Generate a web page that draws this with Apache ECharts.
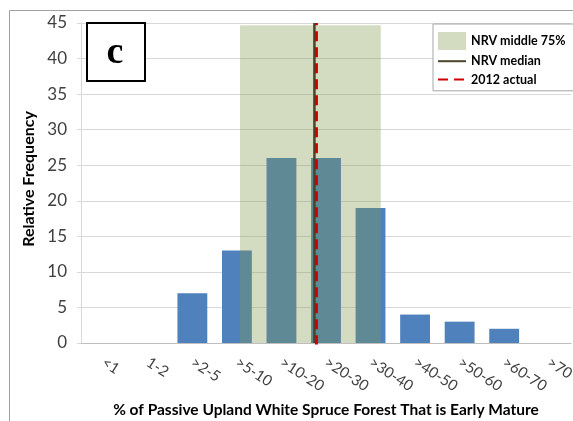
<!DOCTYPE html>
<html>
<head>
<meta charset="utf-8">
<script src="https://cdn.jsdelivr.net/npm/echarts@6/dist/echarts.min.js"></script>
<style>
  html, body { margin: 0; padding: 0; background: #fff; }
  #chart { width: 573px; height: 421px; }
</style>
</head>
<body>
<div id="chart"></div>
<script>
// categories and bar heights
var classes = ['<1', '1-2', '>2-5', '>5-10', '>10-20', '>20-30', '>30-40', '>40-50', '>50-60', '>60-70', '>70'];
var freq = [0, 0, 7, 13, 26, 26, 19, 4, 3, 2, 0];

// NRV range and markers, in category units (0 = left edge of "<1")
var nrvBand = [3.57, 6.73];
var nrvTop = 44.7;
var nrvMedian = 5.24;
var actual2012 = 5.285;

var font = 'Lato, "Open Sans", sans-serif';

var chart = echarts.init(document.getElementById('chart'));

chart.setOption({
    animation: false,
    grid: {
        left: 81,
        right: 2,
        top: 23,
        bottom: 78,
        outerBoundsMode: 'none'
    },
    legend: {
        orient: 'vertical',
        left: 433,
        top: 24,
        padding: [8, 8, 4, 4],
        itemWidth: 28,
        itemHeight: 18,
        itemGap: 4,
        backgroundColor: '#fff',
        borderColor: '#a6a6a6',
        borderWidth: 1,
        textStyle: {
            fontFamily: font,
            fontWeight: 'bold',
            fontSize: 12.5,
            color: '#000'
        },
        data: [
            { name: 'NRV middle 75%', icon: 'rect' },
            { name: 'NRV median', itemStyle: { opacity: 0 } },
            { name: '2012 actual', itemStyle: { opacity: 0 } }
        ]
    },
    xAxis: [{
        type: 'category',
        data: classes,
        name: '% of Passive Upland White Spruce Forest That is Early Mature',
        nameLocation: 'middle',
        nameGap: 59,
        nameTextStyle: {
            fontFamily: font,
            fontWeight: 'bold',
            fontSize: 15.5,
            color: '#000'
        },
        axisLine: { lineStyle: { color: '#bfbfbf' } },
        axisTick: { length: 5, lineStyle: { color: '#bfbfbf' } },
        axisLabel: {
            rotate: -33,
            margin: 18,
            fontFamily: font,
            fontSize: 15,
            color: '#404040'
        }
    }, {
        type: 'value',
        min: 0,
        max: 11,
        show: false
    }],
    yAxis: {
        type: 'value',
        min: 0,
        max: 45,
        interval: 5,
        name: 'Relative Frequency',
        nameLocation: 'middle',
        nameGap: 38,
        nameTextStyle: {
            fontFamily: font,
            fontWeight: 'bold',
            fontSize: 16,
            color: '#000',
            padding: [0, 0, 0, 8]
        },
        axisLine: { show: true, lineStyle: { color: '#d9d9d9' } },
        axisTick: { show: true, length: 4, lineStyle: { color: '#d9d9d9' } },
        splitLine: { lineStyle: { color: '#d9d9d9' } },
        axisLabel: {
            margin: 14,
            fontFamily: font,
            fontSize: 17,
            color: '#404040'
        }
    },
    series: [{
        type: 'bar',
        data: freq,
        barCategoryGap: '33%',
        itemStyle: { color: '#4f81bd' },
        z: 2
    }, {
        name: 'NRV middle 75%',
        type: 'line',
        xAxisIndex: 1,
        data: [[nrvBand[0], nrvTop], [nrvBand[1], nrvTop]],
        symbol: 'none',
        color: 'rgba(125,152,70,0.34)',
        lineStyle: { width: 0 },
        areaStyle: { color: 'rgba(125,152,70,0.34)', opacity: 1 },
        z: 3
    }, {
        name: 'NRV median',
        type: 'line',
        xAxisIndex: 1,
        data: [[nrvMedian, 0], [nrvMedian, 45]],
        symbol: 'none',
        color: '#4a4429',
        lineStyle: { width: 2.5, color: '#4a4429' },
        z: 4
    }, {
        name: '2012 actual',
        type: 'line',
        xAxisIndex: 1,
        data: [[actual2012, -0.3], [actual2012, 45]],
        symbol: 'none',
        color: '#d00000',
        lineStyle: { width: 3, color: '#d00000', type: [10, 6] },
        z: 5
    }],
    graphic: [{
        type: 'rect',
        left: 7,
        top: 8,
        shape: { width: 620, height: 480 },
        style: { fill: 'none', stroke: '#a0a0a0', lineWidth: 1 },
        z: -1
    }, {
        type: 'rect',
        left: 86,
        top: 22,
        z: 10,
        shape: { x: 0, y: 0, width: 58, height: 58 },
        style: { fill: '#fff', stroke: '#000', lineWidth: 2 }
    }, {
        type: 'text',
        x: 115,
        y: 53,
        z: 11,
        style: {
            text: 'c',
            fontFamily: '"Liberation Serif", "DejaVu Serif", serif',
            fontWeight: 'bold',
            fontSize: 38,
            fill: '#000',
            align: 'center',
            verticalAlign: 'middle'
        }
    }]
});
</script>
</body>
</html>
